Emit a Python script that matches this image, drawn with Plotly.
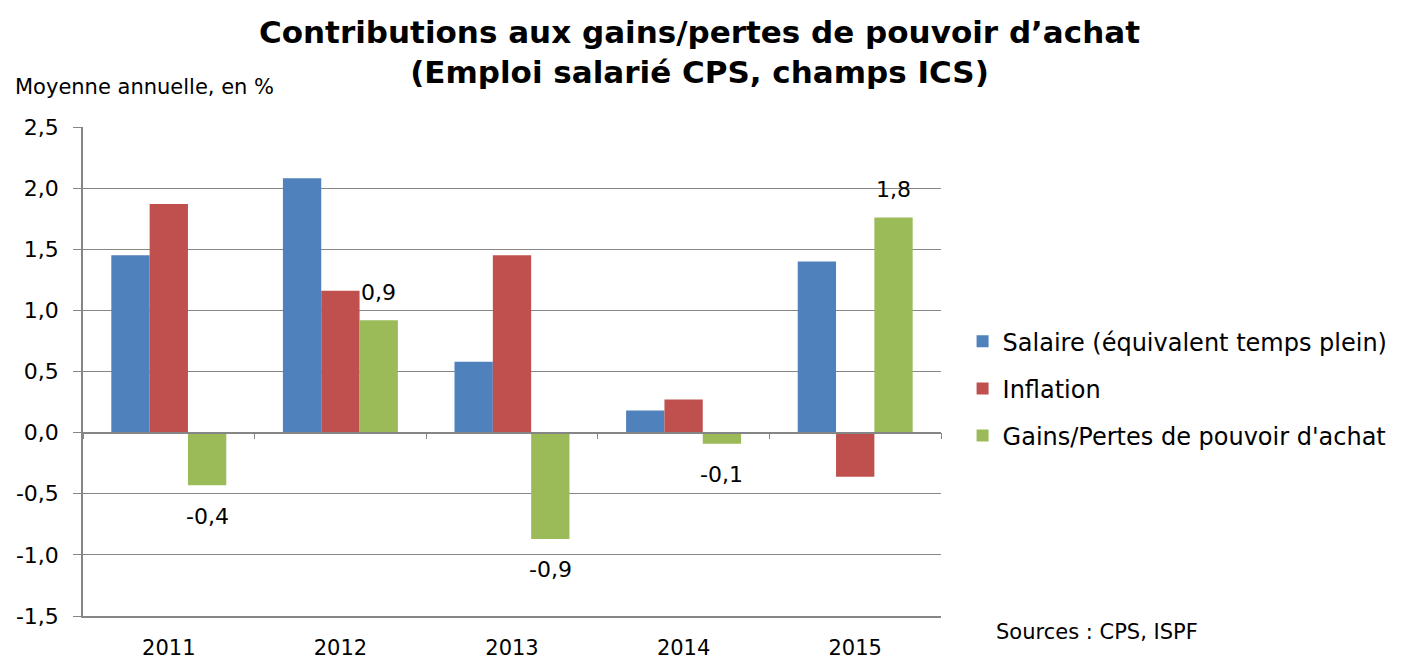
import plotly.graph_objects as go

years = [2011, 2012, 2013, 2014, 2015]
salaire = [1.45, 2.08, 0.58, 0.18, 1.40]
inflation = [1.87, 1.16, 1.45, 0.27, -0.36]
gains = [-0.43, 0.92, -0.87, -0.09, 1.76]
series_names = ["Salaire (équivalent temps plein)", "Inflation", "Gains/Pertes de pouvoir d'achat"]
colors = ["#4F81BD", "#C0504D", "#9BBB59"]
yticks = [-1.5, -1.0, -0.5, 0.0, 0.5, 1.0, 1.5, 2.0, 2.5]

FONT = "DejaVu Sans"
GRAY = "#868686"
W, H = 1405, 660


def fmt(v):
    return f"{v:.1f}".replace(".", ",")


fig = go.Figure()
for i, (name, vals) in enumerate(zip(series_names, [salaire, inflation, gains])):
    fig.add_trace(go.Bar(x=years, y=vals, name=name, marker_color=colors[i],
                         marker_line_width=0, legendgroup=str(i)))

# dummy trace so the zero-crossing axis (x2) renders
fig.add_trace(go.Scatter(x=[2010.5], y=[None], xaxis="x2", showlegend=False, hoverinfo="skip"))

bargap = 0.33
bw = (1 - bargap) / 3
for yr, v in zip(years, gains):
    fig.add_annotation(x=yr + bw, y=v, xref="x", yref="y",
                       text=fmt(v), showarrow=False,
                       yshift=(28 if v >= 0 else -31),
                       font=dict(family=FONT, size=22, color="black"))

fig.update_layout(
    width=W, height=H, autosize=False,
    margin=dict(l=83, r=430, t=127, b=44),
    plot_bgcolor="white", paper_bgcolor="white",
    barmode="group", bargap=bargap, bargroupgap=0,
    font=dict(family=FONT, size=20, color="black"),
    legend=dict(x=(980 - 83) / 875, xanchor="left", y=0.465, yanchor="middle",
                font=dict(family=FONT, size=24), tracegroupgap=13,
                traceorder="grouped", bgcolor="rgba(0,0,0,0)"),
    xaxis=dict(range=[2010.5, 2015.5], tickvals=years, ticktext=[str(y) for y in years],
               showgrid=False, showline=True, linecolor=GRAY, linewidth=1.5,
               ticks="", ticklabelstandoff=12, zeroline=False, automargin=False,
               tickfont=dict(family=FONT, size=21)),
    xaxis2=dict(range=[2010.5, 2015.5], overlaying="x", anchor="free", position=0.375,
                side="bottom", tickvals=[2010.5 + k for k in range(6)],
                showticklabels=False, ticks="outside", ticklen=6, tickcolor=GRAY,
                showline=True, linecolor=GRAY, linewidth=1.5, showgrid=False,
                zeroline=False, automargin=False),
    yaxis=dict(range=[-1.5, 2.5], tickvals=yticks, ticktext=[fmt(t) for t in yticks],
               showgrid=True, gridcolor=GRAY, gridwidth=1.2,
               showline=True, linecolor=GRAY, linewidth=1.5,
               ticks="outside", ticklen=8, tickcolor=GRAY, ticklabelstandoff=10,
               zeroline=False, automargin=False, tickfont=dict(family=FONT, size=22)),
)

fig.add_annotation(x=(712 - 83) / 875, y=(616 - 12) / 489, xref="paper", yref="paper",
                   showarrow=False, xanchor="center", yanchor="top",
                   text="<b>Contributions aux gains/pertes de pouvoir d’achat<br>(Emploi salarié CPS, champs ICS)</b>",
                   font=dict(family=FONT, size=31, color="black"))
fig.add_annotation(x=(12 - 83) / 875, y=(616 - 87) / 489, xref="paper", yref="paper",
                   showarrow=False, text="Moyenne annuelle, en %", xanchor="left", yanchor="middle",
                   font=dict(family=FONT, size=21))
fig.add_annotation(x=(1012 - 83) / 875, y=(616 - 632) / 489, xref="paper", yref="paper",
                   showarrow=False, text="Sources : CPS, ISPF", xanchor="left", yanchor="middle",
                   font=dict(family=FONT, size=21))

post = (
    "document.documentElement.style.margin='0';"
    "document.documentElement.style.overflow='hidden';"
    "document.body.style.margin='0';"
    "document.body.style.overflow='hidden';"
    "var gd=document.getElementById('{plot_id}');"
    f"Plotly.relayout(gd,{{width:{W},height:{H},autosize:false}});"
)
fig.write_html("out.html", config={"displayModeBar": False, "responsive": False},
               post_script=post)
